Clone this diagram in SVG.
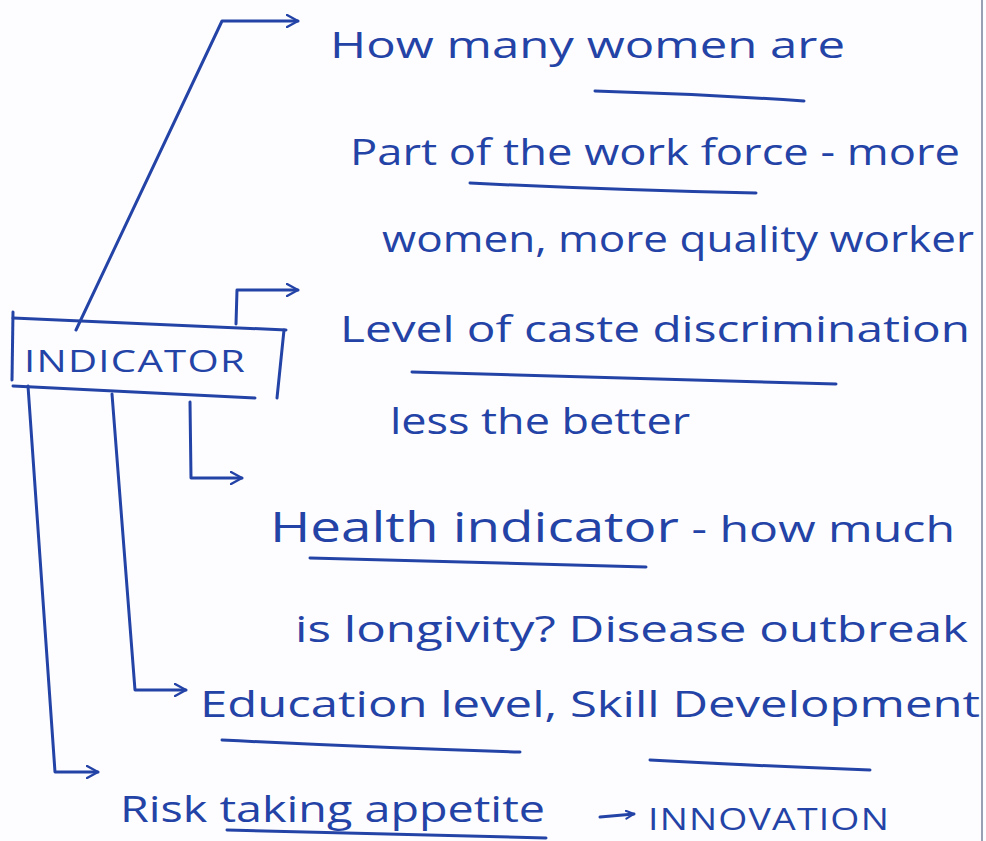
<svg xmlns="http://www.w3.org/2000/svg" width="986" height="841" viewBox="0 0 986 841">
  <style>
    .ink { fill: #2443a6; font-family: "Open Sans", "Liberation Sans", sans-serif; }
    .hw { font-size: 37px; font-weight: 500; }
    .caps { font-size: 31px; letter-spacing: 1px; }
    .stroke { fill: none; stroke: #2443a6; stroke-width: 3; stroke-linecap: round; stroke-linejoin: round; }
    .ul { fill: none; stroke: #2443a6; stroke-width: 3; stroke-linecap: round; }
  </style>
  <defs>
    <marker id="head" viewBox="0 0 14 14" refX="12" refY="7" markerWidth="14" markerHeight="14" markerUnits="userSpaceOnUse" orient="auto">
      <path d="M1,1 L12,7 L1,13" fill="none" stroke="#2443a6" stroke-width="2.4" stroke-linecap="round" stroke-linejoin="round"/>
    </marker>
    <marker id="small" viewBox="0 0 10 10" refX="9" refY="5" markerWidth="10" markerHeight="10" markerUnits="userSpaceOnUse" orient="auto">
      <path d="M1,1 L9,5 L1,9" fill="none" stroke="#2443a6" stroke-width="2" stroke-linecap="round" stroke-linejoin="round"/>
    </marker>
  </defs>

  <rect width="986" height="841" fill="#fdfdff"/>
  <line x1="982" y1="0" x2="982" y2="841" stroke="#9aa0b4" stroke-width="2"/>

  <!-- connectors from the INDICATOR box -->
  <g id="connectors">
    <path class="stroke" d="M76,330 L222,21 L298,21" marker-end="url(#head)"/>
    <path class="stroke" d="M236,324 L237,290 L298,290" marker-end="url(#head)"/>
    <path class="stroke" d="M190,402 L191,478 L242,478" marker-end="url(#head)"/>
    <path class="stroke" d="M112,394 L135,690 L186,690" marker-end="url(#head)"/>
    <path class="stroke" d="M28,386 L55,772 L98,772" marker-end="url(#head)"/>
  </g>

  <!-- central box -->
  <g id="indicator">
    <path class="stroke" d="M13,312 L12,380"/>
    <path class="stroke" d="M13,318 L286,330"/>
    <path class="stroke" d="M284,330 L277,398"/>
    <path class="stroke" d="M13,386 L255,398"/>
    <text class="ink caps" x="24" y="372" textLength="222" lengthAdjust="spacingAndGlyphs">INDICATOR</text>
  </g>

  <g id="women-workforce">
    <text class="ink hw" x="330" y="58" textLength="515" lengthAdjust="spacingAndGlyphs">How many women are</text>
    <path class="ul" d="M595,91 Q700,94 804,101"/>
    <text class="ink hw" x="350" y="165" textLength="610" lengthAdjust="spacingAndGlyphs">Part of the work force - more</text>
    <path class="ul" d="M470,183 Q610,190 756,193"/>
    <text class="ink hw" x="382" y="252" textLength="592" lengthAdjust="spacingAndGlyphs">women, more quality worker</text>
  </g>

  <g id="caste">
    <text class="ink hw" x="340" y="342" textLength="630" lengthAdjust="spacingAndGlyphs">Level of caste discrimination</text>
    <path class="ul" d="M412,372 Q620,378 836,384"/>
    <text class="ink hw" x="390" y="434" textLength="300" lengthAdjust="spacingAndGlyphs">less the better</text>
  </g>

  <g id="health">
    <text class="ink hw" x="270" y="542" textLength="685" lengthAdjust="spacingAndGlyphs"><tspan font-size="42">Health indicator</tspan> - how much</text>
    <path class="ul" d="M310,558 Q480,562 646,567"/>
    <text class="ink hw" x="295" y="642" textLength="673" lengthAdjust="spacingAndGlyphs">is longivity? Disease outbreak</text>
  </g>

  <g id="education">
    <text class="ink hw" x="200" y="717" textLength="780" lengthAdjust="spacingAndGlyphs">Education level, Skill Development</text>
    <path class="ul" d="M222,740 Q380,748 520,752"/>
    <path class="ul" d="M650,760 Q760,766 870,770"/>
  </g>

  <g id="risk">
    <text class="ink hw" x="120" y="822" textLength="425" lengthAdjust="spacingAndGlyphs">Risk taking appetite</text>
    <path class="ul" d="M227,830 Q390,834 546,838"/>
    <path class="stroke" d="M600,817 L634,814" marker-end="url(#small)"/>
    <text class="ink caps" x="648" y="830" textLength="242" lengthAdjust="spacingAndGlyphs">INNOVATION</text>
  </g>
</svg>
